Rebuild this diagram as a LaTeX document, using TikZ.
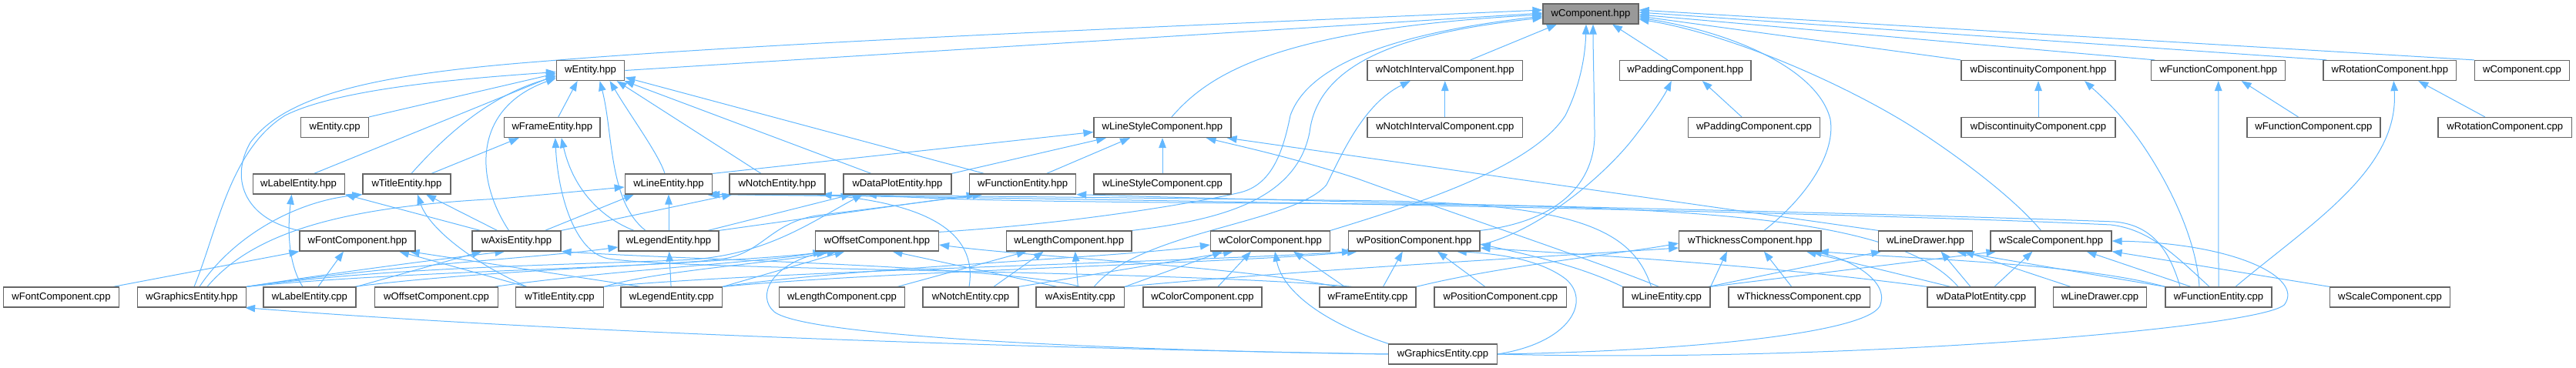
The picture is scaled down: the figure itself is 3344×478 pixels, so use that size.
\documentclass[tikz,border=0pt]{standalone}
\usepackage{fontspec}
\setmainfont{Liberation Sans}
\usetikzlibrary{arrows.meta}
\definecolor{edgeblue}{HTML}{63B8FF}
\definecolor{boxgray}{HTML}{666666}
\definecolor{rootfill}{HTML}{999999}
\pgfdeclarelayer{bg}
\pgfsetlayers{bg,main}
\begin{document}
\begin{tikzpicture}[x=1pt,y=-1pt,
  nd/.style={draw=boxgray, fill=white, line width=1.2pt, minimum height=26pt, inner sep=0pt, font=\fontsize{13.1}{15}\selectfont},
  root/.style={nd, fill=rootfill},
  ed/.style={draw=edgeblue, color=edgeblue, line width=1pt, -{Triangle[length=13pt,width=9.5pt]}}]
\useasboundingbox (0,0) rectangle (3344,478);
% row 1
\node[root, minimum width=124pt] (comp) at (2065,18) {wComponent.hpp};
% row 2
\node[nd, minimum width=88.4pt] (ent) at (766.6,91.5) {wEntity.hpp};
\node[nd, minimum width=201.5pt] (nic) at (1875.8,91.5) {wNotchIntervalComponent.hpp};
\node[nd, minimum width=170.5pt] (padh) at (2187.8,91.5) {wPaddingComponent.hpp};
\node[nd, minimum width=200pt] (dish) at (2646,91.5) {wDiscontinuityComponent.hpp};
\node[nd, minimum width=173.7pt] (funch) at (2879.7,91.5) {wFunctionComponent.hpp};
\node[nd, minimum width=172.7pt] (roth) at (3102.3,91.5) {wRotationComponent.hpp};
\node[nd, minimum width=123pt] (compc) at (3274,91.5) {wComponent.cpp};
% row 3
\node[nd, minimum width=88pt] (entc) at (434.6,165.5) {wEntity.cpp};
\node[nd, minimum width=124.5pt] (frameh) at (716.8,165.5) {wFrameEntity.hpp};
\node[nd, minimum width=178pt] (lsh) at (1509,165.5) {wLineStyleComponent.hpp};
\node[nd, minimum width=201.5pt] (nicc) at (1875.8,165.5) {wNotchIntervalComponent.cpp};
\node[nd, minimum width=170.5pt] (padc) at (2277,165.5) {wPaddingComponent.cpp};
\node[nd, minimum width=200pt] (disc) at (2646,165.5) {wDiscontinuityComponent.cpp};
\node[nd, minimum width=173pt] (funcc) at (3003.4,165.5) {wFunctionComponent.cpp};
\node[nd, minimum width=173.6pt] (rotc) at (3251.8,165.5) {wRotationComponent.cpp};
% row 4
\node[nd, minimum width=119pt] (labh) at (387.6,239) {wLabelEntity.hpp};
\node[nd, minimum width=114pt] (tith) at (528,239) {wTitleEntity.hpp};
\node[nd, minimum width=113.6pt] (lineh) at (868,239) {wLineEntity.hpp};
\node[nd, minimum width=124pt] (notchh) at (1009,239) {wNotchEntity.hpp};
\node[nd, minimum width=140pt] (dph) at (1165,239) {wDataPlotEntity.hpp};
\node[nd, minimum width=138pt] (fnh) at (1327.6,239) {wFunctionEntity.hpp};
\node[nd, minimum width=178pt] (lsc) at (1509,239) {wLineStyleComponent.cpp};
% row 5
\node[nd, minimum width=150pt] (fonth) at (464,313) {wFontComponent.hpp};
\node[nd, minimum width=115pt] (axh) at (670.5,313) {wAxisEntity.hpp};
\node[nd, minimum width=130pt] (legh) at (868,313) {wLegendEntity.hpp};
\node[nd, minimum width=160pt] (offh) at (1138.5,313) {wOffsetComponent.hpp};
\node[nd, minimum width=162.7pt] (lenh) at (1387.7,313) {wLengthComponent.hpp};
\node[nd, minimum width=155pt] (colh) at (1649,313) {wColorComponent.hpp};
\node[nd, minimum width=170.4pt] (posh) at (1835.8,313) {wPositionComponent.hpp};
\node[nd, minimum width=184.3pt] (thh) at (2271.9,313) {wThicknessComponent.hpp};
\node[nd, minimum width=121.8pt] (ldh) at (2499.6,313) {wLineDrawer.hpp};
\node[nd, minimum width=157pt] (sch) at (2662.5,313) {wScaleComponent.hpp};
% row 6
\node[nd, minimum width=150pt] (fontc) at (79.5,386) {wFontComponent.cpp};
\node[nd, minimum width=141pt] (gfxh) at (249,386) {wGraphicsEntity.hpp};
\node[nd, minimum width=120pt] (labc) at (402,386) {wLabelEntity.cpp};
\node[nd, minimum width=160pt] (offc) at (566.5,386) {wOffsetComponent.cpp};
\node[nd, minimum width=114pt] (titc) at (726.6,386) {wTitleEntity.cpp};
\node[nd, minimum width=131.6pt] (legc) at (871.8,386) {wLegendEntity.cpp};
\node[nd, minimum width=163pt] (lenc) at (1093,386) {wLengthComponent.cpp};
\node[nd, minimum width=124pt] (notchc) at (1260,386) {wNotchEntity.cpp};
\node[nd, minimum width=114.6pt] (axc) at (1402.3,386) {wAxisEntity.cpp};
\node[nd, minimum width=154pt] (colc) at (1561,386) {wColorComponent.cpp};
\node[nd, minimum width=125pt] (framec) at (1775.5,386) {wFrameEntity.cpp};
\node[nd, minimum width=171.7pt] (posc) at (1947.8,386) {wPositionComponent.cpp};
\node[nd, minimum width=113pt] (linec) at (2163.5,386) {wLineEntity.cpp};
\node[nd, minimum width=183.5pt] (thc) at (2335.7,386) {wThicknessComponent.cpp};
\node[nd, minimum width=140pt] (dpc) at (2572,386) {wDataPlotEntity.cpp};
\node[nd, minimum width=121.6pt] (ldc) at (2726,386) {wLineDrawer.cpp};
\node[nd, minimum width=138pt] (fnc) at (2880,386) {wFunctionEntity.cpp};
\node[nd, minimum width=156pt] (scc) at (3102.5,386) {wScaleComponent.cpp};
% row 7
\node[nd, minimum width=140.5pt] (gfxc) at (1873,460) {wGraphicsEntity.cpp};

\begin{pgfonlayer}{bg}
% ---- into wComponent.hpp
\draw[ed] (ent.east) -- ([yshift=1pt]comp.west);
\draw[ed] (fonth.north west) .. controls (322,286) and (296,236) .. (325,185) .. controls (370,125) and (480,97) .. (700,80) .. controls (1000,55) and (1500,35) .. ([yshift=5pt]comp.west);
\draw[ed] ([xshift=12pt]lsh.north) .. controls (1570,95) and (1660,38) .. ([yshift=-1pt]comp.west);
\draw[ed] ([yshift=-2pt]offh.north east) .. controls (1400,290) and (1560,262) .. (1610,250) .. controls (1650,240) and (1665,200) .. (1675,150) .. controls (1700,80) and (1820,42) .. ([yshift=-3pt]comp.west);
\draw[ed] (lenh.north east) .. controls (1580,286) and (1682,262) .. (1700,172) .. controls (1712,70) and (1850,40) .. ([yshift=-5pt]comp.west);
\draw[ed] (colh.north east) .. controls (1850,262) and (1990,215) .. (2032,150) .. controls (2052,110) and (2058,70) .. ([xshift=-6pt]comp.south);
\draw[ed] (posh.north east) .. controls (2020,288) and (2072,240) .. (2070,170) .. controls (2069,100) and (2068,60) .. ([xshift=3pt]comp.south);
\draw[ed] ([xshift=33pt]nic.north) -- ([xshift=-44pt]comp.south);
\draw[ed] ([xshift=-23pt]padh.north) -- ([xshift=28pt]comp.south);
\draw[ed] ([xshift=18pt]thh.north) .. controls (2335,265) and (2384,205) .. (2376,155) .. controls (2360,90) and (2250,42) .. ([yshift=-5pt]comp.east);
\draw[ed] ([xshift=-13pt]sch.north) .. controls (2615,258) and (2545,205) .. (2486,167) .. controls (2400,112) and (2250,45) .. ([yshift=-7pt]comp.east);
\draw[ed] (dish.north west) -- ([yshift=-3pt]comp.east);
\draw[ed] ([xshift=5pt]funch.north west) -- ([yshift=-1pt]comp.east);
\draw[ed] ([xshift=5pt]roth.north west) -- ([yshift=2pt]comp.east);
\draw[ed] (compc.north west) -- ([yshift=5pt]comp.east);
% ---- into wEntity.hpp
\draw[ed] (entc.north east) -- ([yshift=-4pt]ent.west);
\draw[ed] ([xshift=20pt]labh.north) -- ([yshift=-6pt]ent.west);
\draw[ed] ([xshift=6pt]tith.north) .. controls (570,185) and (630,125) .. ([yshift=-8pt]ent.west);
\draw[ed] ([xshift=-10pt]axh.north) .. controls (615,230) and (615,140) .. ([yshift=-10pt]ent.west);
\draw[ed] ([xshift=3pt]gfxh.north) .. controls (282,300) and (298,195) .. (370,150) .. controls (440,115) and (600,102) .. ([yshift=-2pt]ent.west);
\draw[ed] ([xshift=8pt]frameh.north) -- ([xshift=-17pt]ent.south);
\draw[ed] ([xshift=-5pt]lineh.north) .. controls (855,200) and (818,150) .. ([xshift=25pt]ent.south);
\draw[ed] ([xshift=-21pt]notchh.north) -- ([xshift=34pt]ent.south);
\draw[ed] ([xshift=-34pt]dph.north) -- ([xshift=-1pt]ent.south east);
\draw[ed] ([xshift=-50pt]fnh.north) -- ([yshift=-9pt]ent.east);
\draw[ed] ([xshift=-30pt]legh.north) .. controls (790,262) and (796,172) .. ([xshift=12pt]ent.south);
% ---- into wFrameEntity.hpp
\draw[ed] ([xshift=32pt]tith.north) -- ([xshift=-43pt]frameh.south);
\draw[ed] ([xshift=-45pt]legh.north) .. controls (785,285) and (745,250) .. ([xshift=12pt]frameh.south);
\draw[ed] ([xshift=-20pt]framec.north) .. controls (1500,350) and (900,352) .. (790,336) .. controls (745,328) and (724,250) .. ([xshift=4pt]frameh.south);
% ---- into wLabelEntity.hpp / wTitleEntity.hpp
\draw[ed] ([xshift=-47pt]axh.north) -- (labh.south east);
\draw[ed] ([xshift=-9pt]labc.north) .. controls (372,340) and (374,290) .. ([xshift=-9pt]labh.south);
\draw[ed] ([xshift=10pt]gfxh.north) .. controls (300,310) and (380,262) .. (tith.south west);
\draw[ed] ([xshift=-25pt]axh.north) -- ([xshift=25pt]tith.south);
\draw[ed] ([xshift=-43pt]titc.north) .. controls (602,335) and (555,292) .. ([xshift=14pt]tith.south);
% ---- into wFontComponent.hpp
\draw[ed] ([xshift=-8pt]fontc.north east) -- (fonth.south west);
\draw[ed] ([xshift=11pt]labc.north) -- ([xshift=-18pt]fonth.south);
\draw[ed] ([xshift=-43pt]titc.north) -- ([xshift=54pt]fonth.south);
\draw[ed] ([xshift=-40pt]legc.north) -- ([xshift=-8pt]fonth.south east);
% ---- into wAxisEntity.hpp
\draw[ed] (gfxh.north east) .. controls (450,352) and (560,338) .. ([xshift=-15pt]axh.south);
\draw[ed] (labc.north east) -- ([xshift=-45pt]axh.south);
\draw[ed] (axc.north) .. controls (1300,345) and (900,338) .. (axh.south east);
% ---- into wLineEntity.hpp
\draw[ed] ([xshift=37pt]axh.north) -- ([xshift=-45pt]lineh.south);
\draw[ed] (legh) -- (lineh);
\draw[ed] ([xshift=20pt]gfxh.north) .. controls (330,300) and (450,268) .. (650,258) -- ([yshift=-4pt]lineh.west);
\draw[ed] ([xshift=-20pt]linec.north) .. controls (2120,300) and (2050,266) .. (1800,261) .. controls (1400,256) and (1100,253) .. ([xshift=-8pt]lineh.south east);
\draw[ed] ([xshift=-12pt]fnc.north) .. controls (2822,330) and (2790,298) .. (2740,292) .. controls (2400,276) and (1600,260) .. ([xshift=-4pt]lineh.south east);
% ---- into wNotchEntity.hpp
\draw[ed] (axh.north east) -- ([xshift=4pt]notchh.south west);
\draw[ed] ([xshift=-2pt]notchc.north) .. controls (1270,300) and (1200,265) .. ([xshift=-5pt]notchh.south east);
% ---- into wDataPlotEntity.hpp
\draw[ed] ([xshift=51pt]legh.north) -- ([xshift=-60pt]dph.south);
\draw[ed] (gfxh.north east) .. controls (500,348) and (700,345) .. (880,338) .. controls (990,335) and (1050,290) .. ([xshift=-45pt]dph.south);
\draw[ed] ([xshift=-30pt]dpc.north) .. controls (2470,290) and (2250,268) .. (1800,265) .. controls (1500,263) and (1250,262) .. ([xshift=-40pt]dph.south);
% ---- into wFunctionEntity.hpp
\draw[ed] (legh.north east) -- ([xshift=-60pt]fnh.south);
\draw[ed] (gfxh.north east) .. controls (520,352) and (850,348) .. (940,336) .. controls (990,328) and (1000,290) .. (1060,280) -- ([xshift=-52pt]fnh.south);
\draw[ed] ([xshift=-50pt]fnc.north) .. controls (2815,320) and (2790,292) .. (2745,288) .. controls (2400,275) and (1700,262) .. (fnh.south east);
% ---- into wLineStyleComponent.hpp
\draw[ed] (lineh.north east) -- ([yshift=-6pt]lsh.west);
\draw[ed] (dph.north east) -- ([xshift=-73pt]lsh.south);
\draw[ed] ([xshift=31pt]fnh.north) -- ([xshift=-42pt]lsh.south);
\draw[ed] (lsc) -- (lsh);
\draw[ed] ([xshift=-10pt]linec.north) .. controls (2080,342) and (1900,282) .. (1762,232) .. controls (1680,205) and (1610,190) .. ([xshift=-33pt]lsh.south east);
\draw[ed] (ldh.north west) -- ([xshift=-6pt]lsh.south east);
% ---- into wLegendEntity.hpp
\draw[ed] (gfxh.north east) .. controls (500,345) and (700,335) .. ([yshift=-8pt]legh.west);
\draw[ed] (legc) -- (legh);
% ---- into wOffsetComponent.hpp
\draw[ed] ([xshift=-3pt]labc.north east) .. controls (650,348) and (950,342) .. ([xshift=-62pt]offh.south);
\draw[ed] (titc.north east) .. controls (850,352) and (1000,342) .. ([xshift=-52pt]offh.south);
\draw[ed] (legc.north east) -- ([xshift=-42pt]offh.south);
\draw[ed] ([xshift=-5pt]offc.north east) .. controls (800,350) and (1000,340) .. ([xshift=-70pt]offh.south);
\draw[ed] ([xshift=-30pt]axc.north) -- ([xshift=20pt]offh.south);
\draw[ed] ([xshift=-40pt]framec.north) .. controls (1600,345) and (1350,335) .. ([yshift=-5pt]offh.east);
\draw[ed] (gfxc.west) .. controls (1500,456) and (1050,440) .. (1005,405) .. controls (982,385) and (1000,345) .. ([xshift=-66pt]offh.south);
% ---- into wLengthComponent.hpp
\draw[ed] ([xshift=-10pt]lenc.north east) -- ([xshift=-55pt]lenh.south);
\draw[ed] ([xshift=30pt]notchc.north) -- ([xshift=-33pt]lenh.south);
\draw[ed] ([xshift=-3pt]axc.north) -- ([xshift=8pt]lenh.south);
% ---- into wColorComponent.hpp
\draw[ed] ([xshift=20pt]colc.north) -- ([xshift=-25pt]colh.south);
\draw[ed] (gfxc.north west) .. controls (1722,420) and (1665,380) .. ([xshift=6pt]colh.south);
\draw[ed] ([xshift=-30pt]framec.north) -- ([xshift=30pt]colh.south);
\draw[ed] (axc.north east) -- ([xshift=-62pt]colh.south);
\draw[ed] (legc.north east) .. controls (1100,348) and (1450,335) .. ([yshift=-5pt]colh.west);
\draw[ed] (notchc.north east) -- ([xshift=-48pt]colh.south);
% ---- into wPositionComponent.hpp
\draw[ed] ([xshift=-20pt]posc.north) -- ([xshift=30pt]posh.south);
\draw[ed] ([xshift=20pt]framec.north) -- ([xshift=-15pt]posh.south);
\draw[ed] (gfxc.east) .. controls (2040,445) and (2066,390) .. (2032,362) .. controls (2000,338) and (1950,330) .. ([xshift=55pt]posh.south);
\draw[ed] (titc.north east) .. controls (1000,352) and (1550,340) .. ([xshift=5pt]posh.south west);
\draw[ed] (legc.north east) .. controls (1150,352) and (1600,342) .. ([xshift=12pt]posh.south west);
\draw[ed] (linec.north west) .. controls (2050,345) and (1980,330) .. ([yshift=-4pt]posh.east);
\draw[ed] (dpc.north west) .. controls (2300,345) and (2050,330) .. ([yshift=-9pt]posh.east);
% ---- into wThicknessComponent.hpp
\draw[ed] ([xshift=-10pt]thc.north) -- ([xshift=18pt]thh.south);
\draw[ed] (linec.north east) -- ([xshift=-30pt]thh.south);
\draw[ed] (gfxc.east) .. controls (2200,456) and (2420,432) .. (2440,398) .. controls (2455,365) and (2400,336) .. ([xshift=80pt]thh.south);
\draw[ed] (framec.north east) .. controls (1950,345) and (2100,330) .. ([yshift=-3pt]thh.west);
\draw[ed] (axc.north east) .. controls (1700,350) and (2000,334) .. ([yshift=-9pt]thh.west);
\draw[ed] ([xshift=-40pt]dpc.north) -- ([xshift=-20pt]thh.south east);
\draw[ed] (fnc.north west) .. controls (2700,342) and (2480,336) .. ([xshift=-4pt]thh.south east);
% ---- into wLineDrawer.hpp
\draw[ed] ([xshift=-38pt]ldc.north) -- ([xshift=50pt]ldh.south);
\draw[ed] ([xshift=-14pt]dpc.north) -- ([xshift=20pt]ldh.south);
\draw[ed] ([xshift=-3pt]linec.north east) -- ([xshift=4pt]ldh.south west);
\draw[ed] (fnc.north west) -- ([xshift=40pt]ldh.south);
% ---- into wScaleComponent.hpp
\draw[ed] (scc.north west) -- (sch.south east);
\draw[ed] ([xshift=17pt]dpc.north) -- ([xshift=-24pt]sch.south);
\draw[ed] ([xshift=-36pt]fnc.north) -- ([xshift=46pt]sch.south);
\draw[ed] (gfxc.east) .. controls (2400,472) and (2945,425) .. (2966,395) .. controls (2990,360) and (2900,316) .. (sch.east);
\draw[ed] (linec.north east) -- ([xshift=8pt]sch.south west);
% ---- right-hand components
\draw[ed] (disc) -- (dish);
\draw[ed] ([xshift=-25pt]fnc.north) .. controls (2850,290) and (2790,195) .. (2760,160) .. controls (2745,140) and (2720,118) .. ([xshift=60pt]dish.south);
\draw[ed] (fnc.north) -- (funch.south);
\draw[ed] ([xshift=22pt]fnc.north) .. controls (3000,290) and (3115,220) .. ([xshift=5pt]roth.south);
\draw[ed] ([xshift=-20pt]funcc.north) -- ([xshift=30pt]funch.south);
\draw[ed] ([xshift=-26pt]rotc.north) -- ([xshift=37pt]roth.south);
\draw[ed] (nicc) -- (nic);
\draw[ed] ([xshift=18pt]axc.north) .. controls (1480,300) and (1680,290) .. (1722,240) .. controls (1742,200) and (1770,135) .. ([xshift=-45pt]nic.south);
\draw[ed] ([xshift=-16pt]padc.north) -- ([xshift=22pt]padh.south);
\draw[ed] ([yshift=-5pt]posh.east) .. controls (2000,300) and (2085,225) .. (2120,180) .. controls (2145,148) and (2160,125) .. ([xshift=-18pt]padh.south);
% ---- into wGraphicsEntity.hpp
\draw[ed] (gfxc.west) .. controls (1300,452) and (700,430) .. ([xshift=-2pt]gfxh.south east);
\end{pgfonlayer}
\end{tikzpicture}
\end{document}
